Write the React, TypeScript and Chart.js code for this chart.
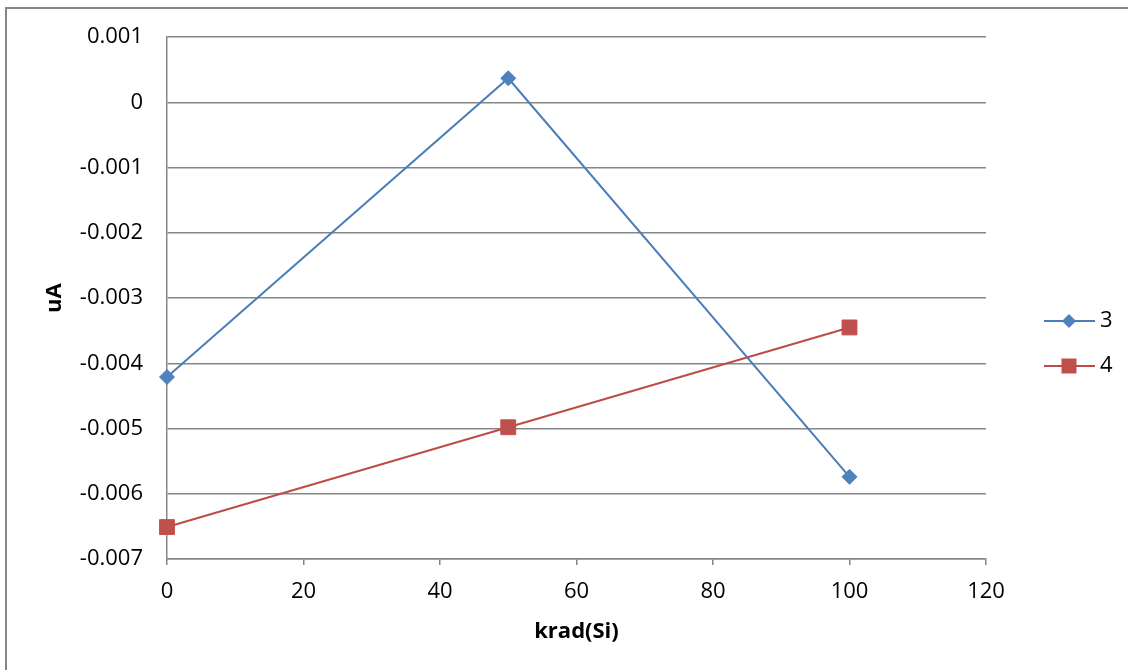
import React, { useEffect, useRef } from "react";
import { Chart, registerables } from "chart.js";

Chart.register(...registerables);

const xValues = [0, 50, 100];
const series3 = [-0.00421, 0.00037, -0.00574];
const series4 = [-0.00651, -0.00498, -0.00345];
const seriesLabels = ["3", "4"];
const xTitle = "krad(Si)";
const yTitle = "uA";

const FONT = "'Open Sans', sans-serif";
const GRID = "#868686";

const framePlugin = {
  id: "frame",
  afterDraw(chart: any) {
    const ctx = chart.ctx;
    ctx.save();
    ctx.strokeStyle = GRID;
    ctx.lineWidth = 2;
    ctx.beginPath();
    ctx.moveTo(6, 670);
    ctx.lineTo(6, 8);
    ctx.lineTo(1128, 8);
    ctx.stroke();

    // legend
    const ys = [321, 366];
    chart.data.datasets.forEach((ds: any, i: number) => {
      const y = ys[i];
      ctx.strokeStyle = ds.borderColor;
      ctx.lineWidth = 2;
      ctx.beginPath();
      ctx.moveTo(1044, y);
      ctx.lineTo(1095, y);
      ctx.stroke();
      ctx.fillStyle = ds.pointBackgroundColor;
      const cx = 1069;
      if (ds.pointStyle === "rectRot") {
        const r = 7;
        ctx.beginPath();
        ctx.moveTo(cx, y - r);
        ctx.lineTo(cx + r, y);
        ctx.lineTo(cx, y + r);
        ctx.lineTo(cx - r, y);
        ctx.closePath();
        ctx.fill();
      } else {
        const s = 7.5;
        ctx.fillRect(cx - s, y - s, 2 * s, 2 * s);
      }
      ctx.fillStyle = "#000";
      ctx.font = `22px ${FONT}`;
      ctx.textAlign = "left";
      ctx.textBaseline = "middle";
      ctx.fillText(ds.label, 1100, y);
    });
    ctx.restore();
  },
};

export default function App() {
  const ref = useRef<HTMLCanvasElement>(null);
  useEffect(() => {
    if (!ref.current) return;
    const chart = new Chart(ref.current, {
      type: "scatter",
      data: {
        datasets: [
          {
            label: seriesLabels[0],
            data: xValues.map((x, i) => ({ x, y: series3[i] })),
            showLine: true,
            clip: false,
            borderColor: "#4A7EBB",
            borderWidth: 2,
            pointStyle: "rectRot",
            pointRadius: 7.5,
            pointBackgroundColor: "#4F81BD",
            pointBorderColor: "#4F81BD",
            pointBorderWidth: 1,
          },
          {
            label: seriesLabels[1],
            data: xValues.map((x, i) => ({ x, y: series4[i] })),
            showLine: true,
            clip: false,
            borderColor: "#BE4B48",
            borderWidth: 2,
            pointStyle: "rect",
            pointRadius: 10.5,
            pointBackgroundColor: "#C0504D",
            pointBorderColor: "#C0504D",
            pointBorderWidth: 1,
          },
        ],
      },
      options: {
        responsive: false,
        animation: false,
        layout: { padding: { left: 0, top: 36, right: 142, bottom: 0 } },
        plugins: { legend: { display: false }, tooltip: { enabled: false } },
        scales: {
          x: {
            type: "linear",
            min: 0,
            max: 120,
            ticks: {
              stepSize: 20,
              color: "#000",
              font: { family: FONT, size: 22 },
              padding: 14,
            },
            grid: {
              drawOnChartArea: false,
              drawTicks: true,
              tickLength: 6,
              color: GRID,
              lineWidth: 1.5,
            },
            border: { display: true, color: GRID, width: 1.5 },
            title: {
              display: true,
              text: xTitle,
              color: "#000",
              font: { family: FONT, size: 22, weight: "bold" },
              padding: { top: 0, bottom: 25 },
            },
            afterFit(scale: any) {
              scale.height = 111;
            },
          },
          y: {
            type: "linear",
            min: -0.007,
            max: 0.001,
            ticks: {
              stepSize: 0.001,
              color: "#000",
              font: { family: FONT, size: 22 },
              padding: 24,
              callback: (v: any) => String(Number(Number(v).toFixed(3))),
            },
            grid: {
              drawTicks: false,
              color: GRID,
              lineWidth: 1.5,
            },
            border: { display: true, color: GRID, width: 1.5 },
            title: {
              display: true,
              text: yTitle,
              color: "#000",
              font: { family: FONT, size: 22, weight: "bold" },
              padding: { top: 42, bottom: 0 },
            },
            afterFit(scale: any) {
              scale.width = 167;
            },
          },
        },
      },
      plugins: [framePlugin],
    } as any);
    return () => chart.destroy();
  }, []);
  return (
    <div style={{ position: "fixed", left: 0, top: 0, width: 1128, height: 670, background: "#fff" }}>
      <canvas ref={ref} width={1128} height={670} style={{ display: "block" }} />
    </div>
  );
}
